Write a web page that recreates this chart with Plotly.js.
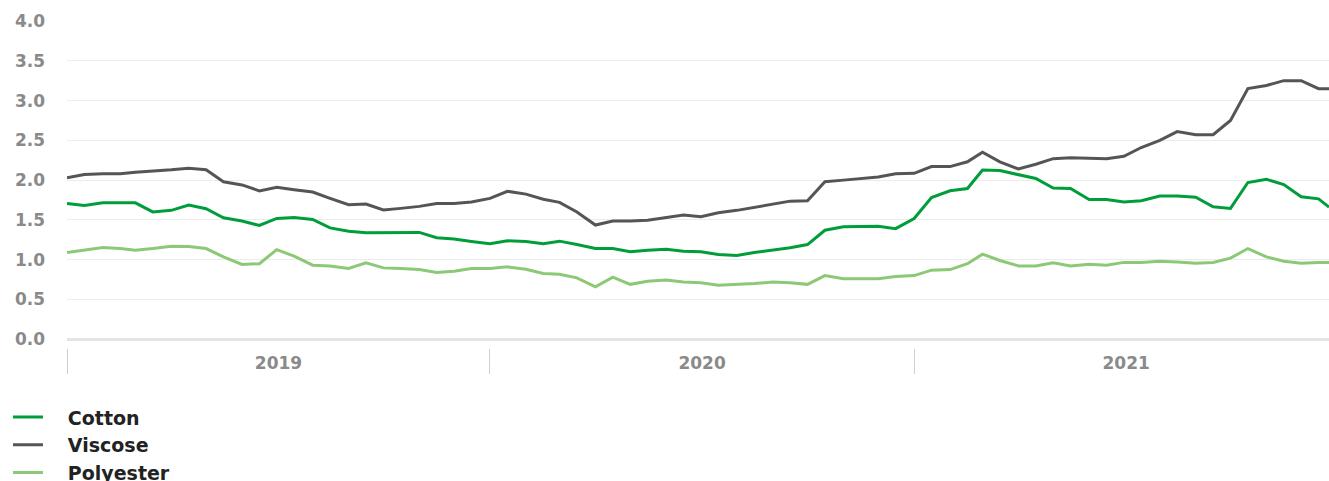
<!DOCTYPE html>
<html>
<head>
<meta charset="utf-8">
<script src="https://cdn.plot.ly/plotly-3.0.1.min.js"></script>
<style>
  html, body { margin: 0; padding: 0; background: #fff; }
  #chart { width: 1329px; height: 481px; }
</style>
</head>
<body>
<div id="chart"></div>
<script>
const dates = [
  "2019-01-01","2019-01-16","2019-02-01","2019-02-16","2019-03-01","2019-03-16","2019-04-01","2019-04-16",
  "2019-05-01","2019-05-16","2019-06-01","2019-06-16","2019-07-01","2019-07-16","2019-08-01","2019-08-16",
  "2019-09-01","2019-09-16","2019-10-01","2019-10-16","2019-11-01","2019-11-16","2019-12-01","2019-12-16",
  "2020-01-01","2020-01-16","2020-02-01","2020-02-16","2020-03-01","2020-03-16","2020-04-01","2020-04-16",
  "2020-05-01","2020-05-16","2020-06-01","2020-06-16","2020-07-01","2020-07-16","2020-08-01","2020-08-16",
  "2020-09-01","2020-09-16","2020-10-01","2020-10-16","2020-11-01","2020-11-16","2020-12-01","2020-12-16",
  "2021-01-01","2021-01-16","2021-02-01","2021-02-16","2021-03-01","2021-03-16","2021-04-01","2021-04-16",
  "2021-05-01","2021-05-16","2021-06-01","2021-06-16","2021-07-01","2021-07-16","2021-08-01","2021-08-16",
  "2021-09-01","2021-09-16","2021-10-01","2021-10-16","2021-11-01","2021-11-16","2021-12-01","2021-12-16",
  "2021-12-25"
];

const seriesNames = ["Cotton", "Viscose", "Polyester"];

const cotton = [
  1.707, 1.68, 1.715, 1.72, 1.715, 1.60, 1.62, 1.686, 1.64, 1.526, 1.486, 1.43, 1.518,
  1.53, 1.505, 1.40, 1.358, 1.34, 1.34, 1.345, 1.343, 1.277, 1.26, 1.23, 1.20,
  1.237, 1.23, 1.20, 1.233, 1.19, 1.14, 1.14, 1.10, 1.12, 1.13, 1.107,
  1.10, 1.065, 1.053, 1.09, 1.12, 1.15, 1.19, 1.37, 1.413, 1.42, 1.42, 1.39,
  1.518, 1.78, 1.866, 1.895, 2.126, 2.12, 2.07, 2.02, 1.90, 1.895, 1.757, 1.757,
  1.725, 1.74, 1.80, 1.80, 1.785, 1.665, 1.645, 1.97, 2.01, 1.945, 1.79, 1.765,
  1.66
];

const viscose = [
  2.03, 2.07, 2.08, 2.08, 2.10, 2.11, 2.13, 2.15, 2.13, 1.98, 1.94, 1.865, 1.91,
  1.88, 1.85, 1.77, 1.69, 1.70, 1.625, 1.645, 1.67, 1.705, 1.705, 1.725, 1.77,
  1.86, 1.824, 1.76, 1.72, 1.60, 1.435, 1.485, 1.485, 1.497, 1.526, 1.56,
  1.54, 1.59, 1.62, 1.66, 1.705, 1.736, 1.74, 1.98, 2.00, 2.02, 2.04, 2.08,
  2.085, 2.17, 2.17, 2.23, 2.35, 2.23, 2.14, 2.20, 2.27, 2.28, 2.275, 2.27,
  2.30, 2.41, 2.50, 2.61, 2.57, 2.57, 2.75, 3.15, 3.19, 3.25, 3.25, 3.15,
  3.15
];

const polyester = [
  1.09, 1.12, 1.153, 1.14, 1.12, 1.14, 1.17, 1.167, 1.14, 1.035, 0.94, 0.95, 1.126,
  1.044, 0.931, 0.92, 0.889, 0.96, 0.897, 0.889, 0.876, 0.839, 0.855, 0.889, 0.89,
  0.91, 0.88, 0.826, 0.818, 0.772, 0.658, 0.78, 0.69, 0.73, 0.745, 0.72,
  0.71, 0.68, 0.69, 0.70, 0.72, 0.71, 0.69, 0.80, 0.76, 0.76, 0.76, 0.79,
  0.80, 0.868, 0.876, 0.95, 1.07, 0.99, 0.922, 0.922, 0.96, 0.922, 0.943, 0.93,
  0.966, 0.966, 0.98, 0.972, 0.955, 0.966, 1.02, 1.14, 1.035, 0.98, 0.955, 0.966,
  0.966
];

const yTicks = [0, 0.5, 1, 1.5, 2, 2.5, 3, 3.5, 4];

const colors = ["#009e3b", "#555555", "#8cc976"];
const values = [cotton, viscose, polyester];
const GAP = "\u00A0\u00A0\u00A0";

const traces = seriesNames.map((name, i) => ({
  type: "scatter",
  mode: "lines",
  name: GAP + name,
  x: dates,
  y: values[i],
  line: { color: colors[i], width: 3 },
  hoverinfo: "skip"
}));

const FONT = "'DejaVu Sans', 'Noto Sans', sans-serif";

const layout = {
  width: 1329,
  height: 481,
  margin: { l: 67, r: 0, t: 21, b: 133, pad: 0, autoexpand: false },
  paper_bgcolor: "#ffffff",
  plot_bgcolor: "#ffffff",
  showlegend: true,
  font: { family: FONT },
  xaxis: {
    type: "date",
    range: ["2019-01-01", "2021-12-25"],
    tick0: "2019-01-01",
    dtick: "M12",
    ticklabelmode: "period",
    tickformat: "%Y",
    ticks: "outside",
    ticklen: 25,
    tickwidth: 1,
    tickcolor: "#cfcfcf",
    ticklabelstandoff: -25,
    showgrid: false,
    zeroline: false,
    showline: false,
    automargin: false,
    tickfont: { family: FONT, size: 17, color: "#8a8a8a", weight: "bold" },
    fixedrange: true
  },
  yaxis: {
    range: [-0.11, 4.0],
    tickmode: "array",
    tickvals: yTicks,
    tickformat: ".1f",
    showgrid: true,
    gridcolor: "#ececec",
    gridwidth: 1,
    zeroline: true,
    zerolinecolor: "#e4e4e4",
    zerolinewidth: 3,
    showline: false,
    ticks: "",
    ticklabelstandoff: 21,
    automargin: false,
    tickfont: { family: FONT, size: 17, color: "#8a8a8a", weight: "bold" },
    fixedrange: true
  },
  legend: {
    orientation: "v",
    xref: "container",
    yref: "container",
    x: 0.006,
    xanchor: "left",
    y: 0.172,
    yanchor: "top",
    bgcolor: "rgba(0,0,0,0)",
    borderwidth: 0,
    itemwidth: 30,
    tracegroupgap: 0,
    font: { family: FONT, size: 19, color: "#222222", weight: "bold" }
  }
};

Plotly.newPlot("chart", traces, layout, { displayModeBar: false, staticPlot: true });
</script>
</body>
</html>
